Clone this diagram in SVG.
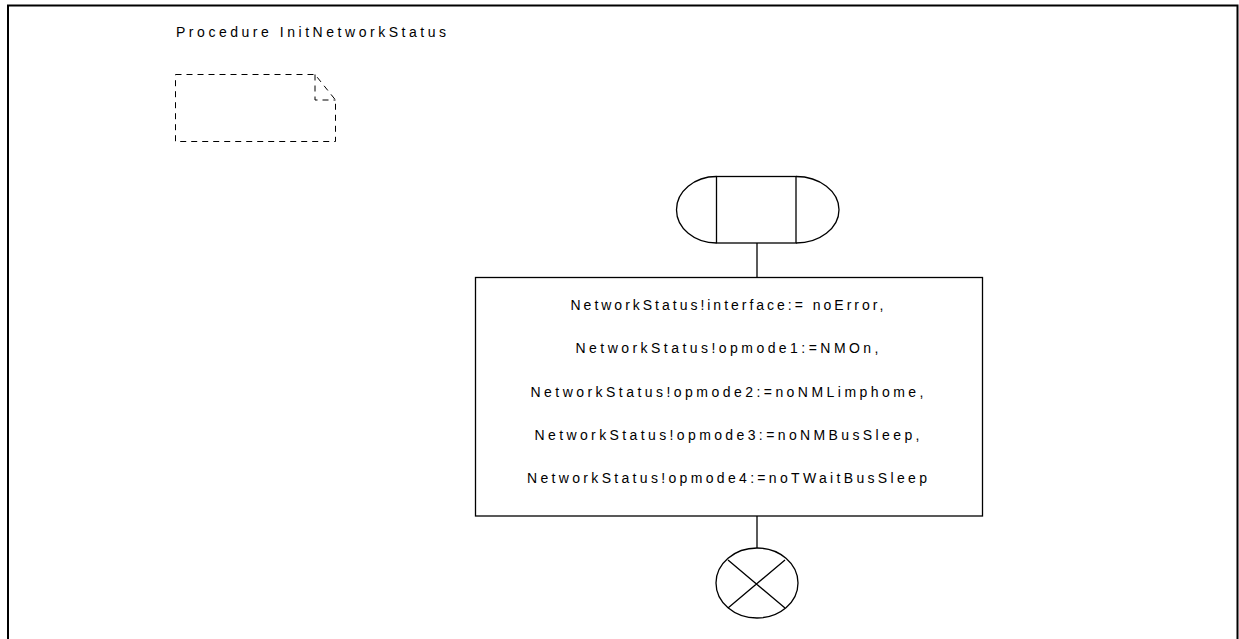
<svg xmlns="http://www.w3.org/2000/svg" width="1239" height="639" viewBox="0 0 1239 639">
<style>
.t{font-family:"Liberation Sans",Arial,sans-serif;font-size:14px;fill:#000}
.s{fill:none;stroke:#000;stroke-width:1.3}
.d{fill:none;stroke:#000;stroke-width:1;stroke-dasharray:6,5}
</style>
<rect width="1239" height="639" fill="#fff"/>
<g id="frame"><path d="M8,640 V5.5 H1237.5 V640" fill="none" stroke="#000" stroke-width="2"/></g>
<text id="title" class="t" x="176" y="37" textLength="270" lengthAdjust="spacing">Procedure InitNetworkStatus</text>
<g id="note">
<path class="d" d="M175.5,74.5 H315 L335.5,100 V141.5 H175.5 Z"/>
<path class="d" d="M315,74.5 V100 H335.5"/>
</g>
<g id="start">
<rect class="s" x="716.5" y="176.5" width="79.5" height="66.5"/>
<path class="s" d="M716.5,176.5 A40,33.25 0 0 0 716.5,243"/>
<path class="s" d="M796,176.5 A43,33.25 0 0 1 796,243"/>
</g>
<g id="task">
<rect class="s" x="475.5" y="277.5" width="507" height="238.5"/>
<text class="t" x="727" y="310" text-anchor="middle" textLength="313" lengthAdjust="spacing">NetworkStatus!interface:= noError,</text>
<text class="t" x="727" y="353" text-anchor="middle" textLength="303" lengthAdjust="spacing">NetworkStatus!opmode1:=NMOn,</text>
<text class="t" x="727" y="397" text-anchor="middle" textLength="393" lengthAdjust="spacing">NetworkStatus!opmode2:=noNMLimphome,</text>
<text class="t" x="727" y="440" text-anchor="middle" textLength="385" lengthAdjust="spacing">NetworkStatus!opmode3:=noNMBusSleep,</text>
<text class="t" x="727" y="483" text-anchor="middle" textLength="400" lengthAdjust="spacing">NetworkStatus!opmode4:=noTWaitBusSleep</text>
</g>
<g id="end">
<ellipse class="s" cx="757" cy="583" rx="41" ry="35"/>
<path class="s" d="M728,560 L785,608 M785,560 L728,608"/>
</g>
<g id="connectors">
<path class="s" d="M757,243 V277.5"/>
<path class="s" d="M757,516 V548"/>
</g>
</svg>
